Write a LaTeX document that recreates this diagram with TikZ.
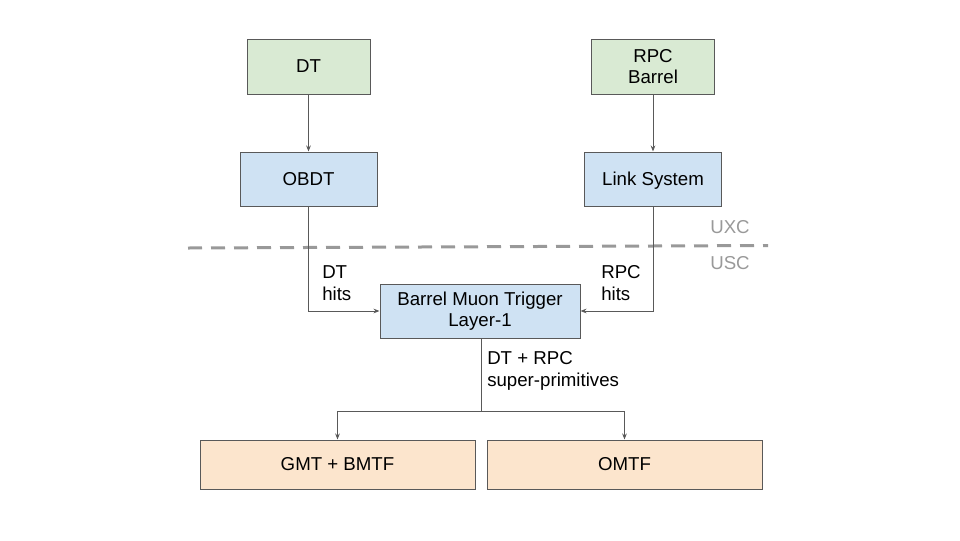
\documentclass[tikz,border=0pt]{standalone}
\usepackage{fontspec}
\setmainfont{Liberation Sans}
\usetikzlibrary{positioning,arrows.meta}
\definecolor{boxG}{HTML}{D9EAD3}
\definecolor{boxB}{HTML}{CFE2F3}
\definecolor{boxO}{HTML}{FCE5CD}
\definecolor{lineD}{HTML}{595959}
\definecolor{lineL}{HTML}{999999}

\begin{document}
\begin{tikzpicture}[
  x=0.75pt, y=-0.75pt,
  every node/.style={font=\fontsize{14}{16}\selectfont},
  unit/.style={rectangle, draw=lineD, line width=0.75pt, align=center, inner sep=2pt},
  det/.style={unit, fill=boxG, minimum width=92.25pt, minimum height=41.25pt},
  link/.style={unit, fill=boxB, minimum width=102.75pt, minimum height=40.5pt},
  proc/.style={unit, fill=boxB, minimum width=150pt, minimum height=40.5pt},
  sink/.style={unit, fill=boxO, minimum width=206.25pt, minimum height=36.75pt},
  lbl/.style={align=left, anchor=west, inner sep=0pt},
  arr/.style={-{Stealth[length=4.5pt, width=3.5pt]}, line width=0.75pt, lineD}
]
  \useasboundingbox (0,0) rectangle (960,540);

  \node[det] (dt) at (308.5,66.5) {DT};
  \node[det] (rpc) at (653,66.5) {RPC\\Barrel};
  \node[link] (obdt) at (308.5,179) {OBDT};
  \node[link, text depth=0pt] (ls) at (653,179) {Link System};
  \node[proc] (bmtl) at (480,311) {Barrel Muon Trigger\\Layer-1};
  \node[sink] (gmt) at (337.5,464.5) {GMT + BMTF};
  \node[sink] (omtf) at (624.5,464.5) {OMTF};

  % cavern boundary
  \coordinate (cutL) at (188,248);
  \coordinate (cutR) at (768,245.5);
  \draw[lineL, line width=2.25pt, dash pattern=on 10.5pt off 6.75pt] (cutL) -- (cutR);
  \node[lbl, text=lineL] (uxc) at (710,227) {UXC};
  \node[lbl, text=lineL] (usc) at (710,263) {USC};

  \draw[arr] (dt) -- (obdt);
  \draw[arr] (rpc) -- (ls);
  \draw[arr] (obdt.south) |- (bmtl.west);
  \draw[arr] (ls.south) |- (bmtl.east);
  \node[lbl] (dthits) at (322,283) {DT\\hits};
  \node[lbl] (rpchits) at (601,283) {RPC\\hits};

  \coordinate (split) at (481,411);
  \draw[line width=0.75pt, lineD] (bmtl.south -| split) -- (split);
  \draw[arr] (split) -| (gmt.north);
  \draw[arr] (split) -| (omtf.north);
  \node[lbl] (sprim) at (487,371) {DT + RPC\\super-primitives};
\end{tikzpicture}
\end{document}
